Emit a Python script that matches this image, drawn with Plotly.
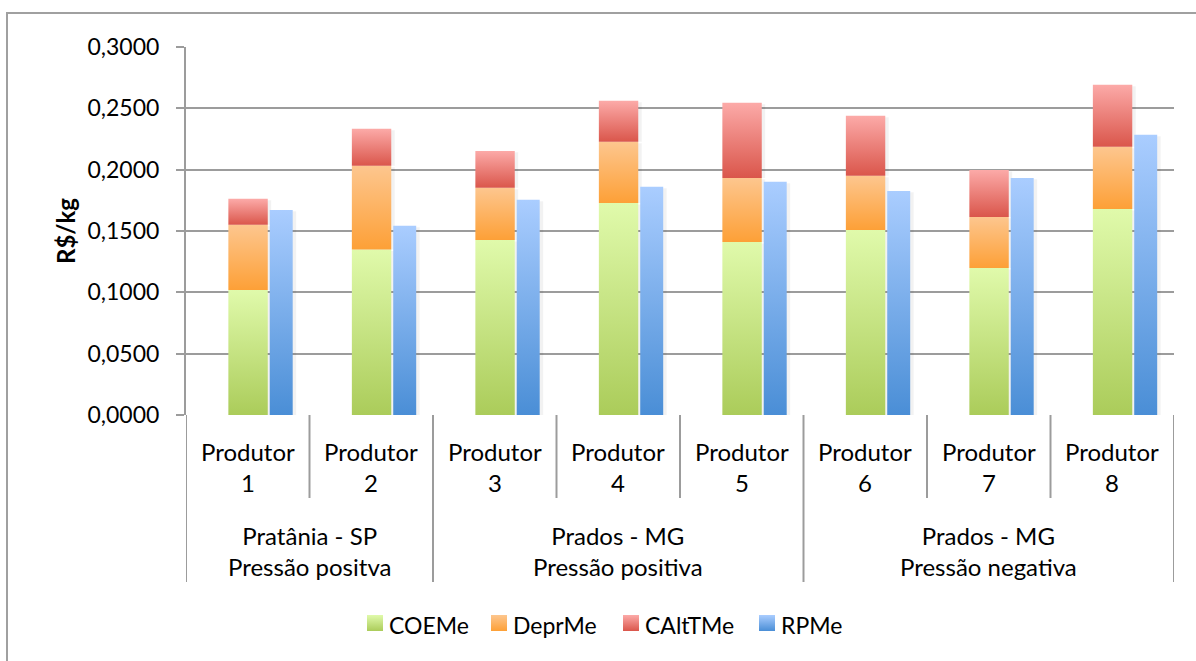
import plotly.graph_objects as go

# Custos e receita média por produtor (R$/kg)
produtores = ["Produtor<br>1", "Produtor<br>2", "Produtor<br>3", "Produtor<br>4",
              "Produtor<br>5", "Produtor<br>6", "Produtor<br>7", "Produtor<br>8"]
grupos = ["Pratânia - SP<br>Pressão positva",
          "Prados - MG<br>Pressão positiva",
          "Prados - MG<br>Pressão negativa"]
tamanho_grupo = [2, 3, 3]

series = ["COEMe", "DeprMe", "CAltTMe", "RPMe"]
coeme = [0.1020, 0.1349, 0.1427, 0.1729, 0.1411, 0.1509, 0.1199, 0.1680]
deprme = [0.0530, 0.0682, 0.0425, 0.0498, 0.0522, 0.0441, 0.0416, 0.0506]
calttme = [0.0212, 0.0302, 0.0301, 0.0334, 0.0612, 0.0489, 0.0383, 0.0506]
rpme = [0.1672, 0.1542, 0.1754, 0.1860, 0.1901, 0.1827, 0.1933, 0.2284]

y_ticks = [0.0, 0.05, 0.10, 0.15, 0.20, 0.25, 0.30]

W, H = 1196, 661
FONT = "Lato"
GRID = "#9c9c9c"

# gradientes (base -> topo)
estilos = {
    "COEMe": ("#abcc5a", "#e0faab"),
    "DeprMe": ("#fda037", "#fdc68e"),
    "CAltTMe": ("#da564b", "#fcaaa8"),
    "RPMe": ("#4a8ed6", "#aacdff"),
}

# área de plotagem em pixels
PL, PR, PT, PB = 186, 1174, 47, 415
STACK = (-0.157, 0.162)
SIDE = (0.178, 0.364)


def retangulo(x0, x1, y0, y1):
    return [x0, x1, x1, x0, x0], [y0, y0, y1, y1, y0]


fig = go.Figure()


def barra(nome, i, faixa, base, topo):
    xs, ys = retangulo(i + faixa[0], i + faixa[1], base, topo)
    # sombra suave à direita
    sx, sy = retangulo(i + faixa[0] + 0.012, i + faixa[1] + 0.028, base, topo - 0.0012)
    fig.add_trace(go.Scatter(x=sx, y=sy, mode="none", fill="toself",
                             fillcolor="rgba(0,0,0,0.05)", showlegend=False,
                             hoverinfo="skip"))
    c0, c1 = estilos[nome]
    fig.add_trace(go.Scatter(
        x=xs, y=ys, mode="none", fill="toself", name=nome, showlegend=False,
        fillgradient=dict(type="vertical", colorscale=[[0, c0], [1, c1]]),
        hoverinfo="skip"))


for i in range(len(produtores)):
    b1 = coeme[i]
    b2 = b1 + deprme[i]
    b3 = b2 + calttme[i]
    barra("COEMe", i, STACK, 0, b1)
    barra("DeprMe", i, STACK, b1, b2)
    barra("CAltTMe", i, STACK, b2, b3)
    barra("RPMe", i, SIDE, 0, rpme[i])

n = len(produtores)
shapes = []
annotations = []
txt = dict(family=FONT, size=24, color="#000")

# rótulos de produtor e divisórias
for i, p in enumerate(produtores):
    annotations.append(dict(x=i, y=467, xref="x", yref="y2", text=p,
                            showarrow=False, font=txt, yanchor="middle"))
fronteiras = [-0.5]
for t in tamanho_grupo:
    fronteiras.append(fronteiras[-1] + t)
for k in range(n + 1):
    xb = k - 0.5
    baixo = 582 if xb in fronteiras else 498
    shapes.append(dict(type="line", xref="x", yref="y2", x0=xb, x1=xb,
                       y0=PB, y1=baixo, line=dict(color=GRID, width=2)))
for g, nome in enumerate(grupos):
    centro = (fronteiras[g] + fronteiras[g + 1]) / 2
    annotations.append(dict(x=centro, y=551, xref="x", yref="y2", text=nome,
                            showarrow=False, font=txt, yanchor="middle"))

annotations.append(dict(x=65, y=(PT + PB) / 2, xref="x2", yref="y2",
                        text="<b>R$/kg</b>", textangle=-90, showarrow=False,
                        xanchor="center", yanchor="middle",
                        font=dict(family=FONT, size=24, color="#000")))

# legenda
leg_x = [367, 491, 623, 759]
LEG_Y, SW = 623, 16
for nome, lx in zip(series, leg_x):
    xs, ys = retangulo(lx, lx + SW, LEG_Y + SW / 2, LEG_Y - SW / 2)
    c0, c1 = estilos[nome]
    fig.add_trace(go.Scatter(
        x=xs, y=ys, xaxis="x2", yaxis="y2", mode="none", fill="toself",
        name=nome, showlegend=False, hoverinfo="skip",
        fillgradient=dict(type="vertical", colorscale=[[0, c0], [1, c1]])))
    annotations.append(dict(x=lx + SW + 4, y=LEG_Y + 2, xref="x2", yref="y2",
                            text=nome, showarrow=False, xanchor="left",
                            yanchor="middle",
                            font=dict(family=FONT, size=23, color="#000")))

# moldura do gráfico
shapes.append(dict(type="rect", xref="x2", yref="y2", x0=7, x1=W + 40,
                   y0=13, y1=H + 40, line=dict(color="#a0a0a0", width=2),
                   layer="below"))

fig.update_layout(
    width=W, height=H,
    margin=dict(l=0, r=0, t=0, b=0, pad=0, autoexpand=False),
    paper_bgcolor="white", plot_bgcolor="rgba(0,0,0,0)",
    separators=",.",
    font=dict(family=FONT, size=23, color="#000"),
    showlegend=False,
    xaxis=dict(domain=[PL / W, PR / W], range=[-0.5, n - 0.5], showgrid=False,
               zeroline=False, showticklabels=False, ticks="", showline=False,
               fixedrange=True, anchor="y", automargin=False),
    yaxis=dict(domain=[1 - PB / H, 1 - PT / H], range=[0, 0.3], tickvals=y_ticks,
               tickformat=".4f", anchor="x", automargin=False,
               showgrid=True, gridcolor=GRID, gridwidth=2, zeroline=False,
               showline=True, linecolor=GRID, linewidth=2,
               ticks="outside", ticklen=8, tickcolor=GRID, tickwidth=2,
               ticklabelstandoff=12,
               tickfont=dict(family=FONT, size=23, color="#000")),
    xaxis2=dict(domain=[0, 1], range=[0, W], visible=False, anchor="y2",
                fixedrange=True, automargin=False),
    yaxis2=dict(domain=[0, 1], range=[H, 0], visible=False, anchor="x2",
                fixedrange=True, automargin=False),
    shapes=shapes,
    annotations=annotations,
)

fig.write_html("out.html")
